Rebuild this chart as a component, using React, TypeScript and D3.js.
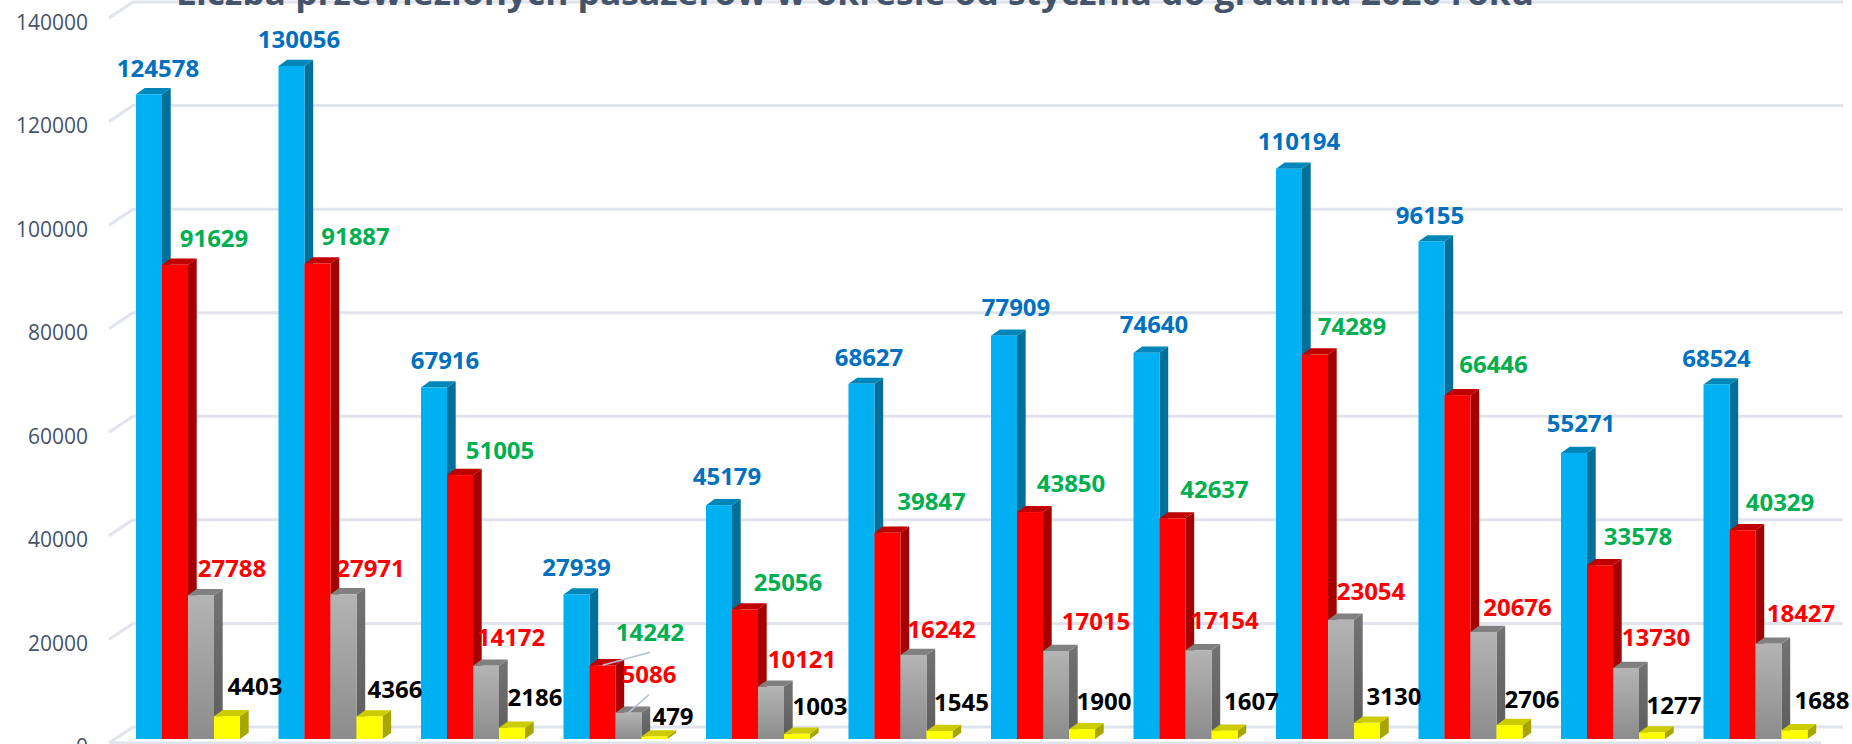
import React from "react";
import * as d3 from "d3";

const months = ["Styczeń","Luty","Marzec","Kwiecień","Maj","Czerwiec","Lipiec","Sierpień","Wrzesień","Październik","Listopad","Grudzień"];
const seriesKeys = ["a","b","c","d"];
const blueValues = [124578,130056,67916,27939,45179,68627,77909,74640,110194,96155,55271,68524];
const redValues = [91629,91887,51005,14242,25056,39847,43850,42637,74289,66446,33578,40329];
const grayValues = [27788,27971,14172,5086,10121,16242,17015,17154,23054,20676,13730,18427];
const yellowValues = [4403,4366,2186,479,1003,1545,1900,1607,3130,2706,1277,1688];
const yTicks = [0,20000,40000,60000,80000,100000,120000,140000];
const titleText = "Liczba przewiezionych pasażerów w okresie od stycznia do grudnia 2020 roku";

// hand-placed data-label nudges relative to each bar's top centre
const blueNudgeX = [9,7.5,11,0,8,7.5,12,7.5,10,-1.5,7,0];
const blueNudgeY = [-26,-26,-27.5,-27,-29,-26,-28,-28.7,-27,-26,-29,-26];
const redNudgeX = [39,38,40,47.5,43,44,41,42,37,36,38,37.5];
const redNudgeY = [-26,-27,-25,-33,-27,-31,-29,-29,-27.6,-31,-29,-28];
const grayNudgeX = [31,27,25,20.5,31,28,40,26,30,34,30,32.5];
const grayNudgeY = [-27,-26,-28,-38,-27,-25,-29,-30,-28,-25,-30,-30];
const yellowNudgeX = [28,25.5,23,18.5,23,22,22,27,27,22.5,22,27.5];
const yellowNudgeY = [-30,-27,-30,-20,-27,-29,-27.5,-29,-26,-25,-27,-30];

const W = 1852, H = 744;
const baseY = 739, dx = 8.7, dy = 6.2;
const FONT = "'Open Sans', sans-serif";

const y = d3.scaleLinear().domain([0,140000]).range([baseY, baseY - 724.5]);
const backY = d3.scaleLinear().domain([0,140000]).range([727, 2]);
const xGroup = d3.scaleBand<string>().domain(months).range([136, 136 + 142.5 * 12]);
const xSeries = d3.scaleBand<string>().domain(seriesKeys).range([0, 104]);

const styles = [
  { key:"a", values:blueValues, front:"#00B0F0", side:"#006F99", top:"#0086B8", label:"#0070C0", nx:blueNudgeX, ny:blueNudgeY },
  { key:"b", values:redValues, front:"#FF0000", side:"#A50000", top:"#C00000", label:"#00B050", nx:redNudgeX, ny:redNudgeY },
  { key:"c", values:grayValues, front:"url(#grayFront)", side:"url(#graySide)", top:"#808080", label:"#FF0000", nx:grayNudgeX, ny:grayNudgeY },
  { key:"d", values:yellowValues, front:"#FFFF00", side:"#A6A600", top:"#CCCC00", label:"#000000", nx:yellowNudgeX, ny:yellowNudgeY },
];

function poly(points: [number,number][]) {
  const p = d3.path();
  points.forEach(([a,b],i) => (i ? p.lineTo(a,b) : p.moveTo(a,b)));
  p.closePath();
  return p.toString();
}

export default function App() {
  const bw = xSeries.bandwidth();
  return (
    <svg width={W} height={H} viewBox={`0 0 ${W} ${H}`} style={{position:"absolute",left:0,top:0,background:"#fff",display:"block"}}>
      <defs>
        <linearGradient id="grayFront" x1="0" y1="0" x2="0" y2="1">
          <stop offset="0" stopColor="#B4B4B4"/><stop offset="1" stopColor="#8C8C8C"/>
        </linearGradient>
        <linearGradient id="graySide" x1="0" y1="0" x2="0" y2="1">
          <stop offset="0" stopColor="#737373"/><stop offset="1" stopColor="#5C5C5C"/>
        </linearGradient>
      </defs>
      {yTicks.map(t => (
        <g key={t} fill="none" stroke="#E1E4EC" strokeWidth={3}>
          <path d={d3.line()([[109,backY(t)+16],[133,backY(t)],[1843,backY(t)]]) as string}/>
        </g>
      ))}
      <path d={d3.line()([[110,743],[1821,743]]) as string} stroke="#E1E4EC" strokeWidth={3} fill="none"/>
      {yTicks.map(t => (
        <text key={t} x={88} y={y(t)+7.5+7.5} textAnchor="end" fontFamily={FONT} fontSize={21} fill="#44546A">{t}</text>
      ))}
      <text x={176} y={5} fontFamily={FONT} fontWeight={700} fontSize={34} fill="#44546A" textLength={1358} lengthAdjust="spacingAndGlyphs">{titleText}</text>
      {months.map((m,i) => (
        <g key={m}>
          {styles.map(s => {
            const x0 = (xGroup(m) as number) + (xSeries(s.key) as number);
            const x1 = x0 + bw;
            const top = y(s.values[i]);
            return (
              <g key={s.key}>
                <path d={poly([[x1,baseY],[x1,top],[x1+dx,top-dy],[x1+dx,baseY-dy]])} fill={s.side}/>
                <path d={poly([[x0,top],[x0+dx,top-dy],[x1+dx,top-dy],[x1,top]])} fill={s.top}/>
                <rect x={x0} y={top} width={bw} height={baseY-top} fill={s.front}/>
              </g>
            );
          })}
        </g>
      ))}
      {months.map((m,i) => i !== 3 ? null : (
        <g key={m} stroke="#B4C0D4" strokeWidth={1.5} fill="none">
          {styles.slice(1,3).map(s => {
            const cx = (xGroup(m) as number) + (xSeries(s.key) as number) + bw/2;
            const top = y(s.values[i]);
            return <path key={s.key} d={d3.line()([[cx, top],[cx + s.nx[i], top + s.ny[i] + 20]]) as string}/>;
          })}
        </g>
      ))}
      {months.map((m,i) => (
        <g key={m}>
          {styles.map(s => {
            const cx = (xGroup(m) as number) + (xSeries(s.key) as number) + bw/2;
            const top = y(s.values[i]);
            return (
              <text key={s.key} x={cx+s.nx[i]} y={top+s.ny[i]+8.5} textAnchor="middle" fontFamily={FONT} fontWeight={700} fontSize={24} fill={s.label}>{s.values[i]}</text>
            );
          })}
        </g>
      ))}
    </svg>
  );
}
